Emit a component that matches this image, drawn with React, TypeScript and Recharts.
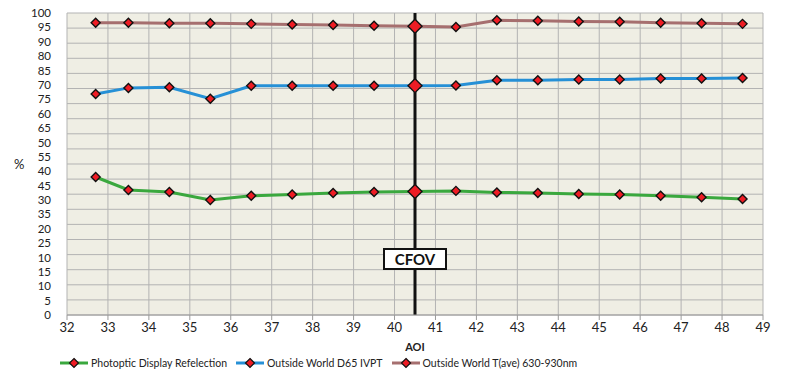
import React from 'react';
import { LineChart, Line, XAxis, YAxis, CartesianGrid, ReferenceLine } from 'recharts';

const aoi = [32.7, 33.5, 34.5, 35.5, 36.5, 37.5, 38.5, 39.5, 40.5, 41.5, 42.5, 43.5, 44.5, 45.5, 46.5, 47.5, 48.5];
const photopic = [45.7, 41.4, 40.7, 38.1, 39.5, 39.9, 40.4, 40.7, 40.9, 41.1, 40.6, 40.4, 40.1, 39.9, 39.5, 39.0, 38.4];
const d65 = [73.2, 75.2, 75.4, 71.6, 75.9, 75.9, 75.9, 75.9, 75.95, 76.0, 77.7, 77.7, 78.0, 78.0, 78.3, 78.3, 78.5];
const tAve = [96.8, 96.8, 96.6, 96.6, 96.4, 96.2, 96.0, 95.8, 95.6, 95.4, 97.6, 97.4, 97.2, 97.1, 96.8, 96.6, 96.4];

const xTicks = [32, 33, 34, 35, 36, 37, 38, 39, 40, 41, 42, 43, 44, 45, 46, 47, 48, 49];
const gridTicks = [0, 5, 10, 15, 20, 25, 30, 35, 40, 45, 50, 55, 60, 65, 70, 75, 80, 85, 90, 95, 100];
// labels as printed on the original, top to bottom
const yLabels = ['100', '95', '90', '80', '85', '70', '75', '60', '65', '50', '55', '40', '45', '30', '35', '20', '25', '10', '15', '10', '5', '0'];
const labelTicks = yLabels.map((_, i) => i);

const cfov = 40.5;

const series = [
  { key: 'photopic', name: 'Photoptic Display Refelection', color: '#3aa83e' },
  { key: 'd65', name: 'Outside World D65 IVPT', color: '#2690d6' },
  { key: 'tAve', name: 'Outside World T(ave) 630-930nm', color: '#a66f6f' },
];

const data = aoi.map((x, i) => ({ aoi: x, photopic: photopic[i], d65: d65[i], tAve: tAve[i] }));

const FONT = 'Lato, "Open Sans", sans-serif';

const Diamond = (props: any) => {
  const { cx, cy, payload } = props;
  if (cx == null || cy == null) return null;
  const r = payload && payload.aoi === cfov ? 7 : 4.5;
  return (
    <polygon
      points={`${cx},${cy - r} ${cx + r},${cy} ${cx},${cy + r} ${cx - r},${cy}`}
      fill="#ee1c24"
      stroke="#111"
      strokeWidth={1.4}
    />
  );
};

const CfovLabel = (props: any) => {
  const { viewBox } = props;
  const x = viewBox.x;
  const y = viewBox.y + 236;
  return (
    <g>
      <rect x={x - 31} y={y} width={62} height={20} fill="#fff" stroke="#111" strokeWidth={2} />
      <text x={x} y={y + 15.5} textAnchor="middle" fontFamily={FONT} fontWeight={700} fontSize={15} fill="#111">
        CFOV
      </text>
    </g>
  );
};

const LegendRow = () => (
  <div style={{ position: 'absolute', top: 357, left: 60, display: 'flex', fontFamily: FONT, fontSize: 10.5, color: '#222' }}>
    {series.map((s) => (
      <div key={s.key} style={{ display: 'flex', alignItems: 'center', marginRight: 9 }}>
        <svg width={28} height={12}>
          <line x1={0} y1={6} x2={28} y2={6} stroke={s.color} strokeWidth={3} />
          <polygon points="14,1.5 18.5,6 14,10.5 9.5,6" fill="#ee1c24" stroke="#111" strokeWidth={1.2} />
        </svg>
        <span style={{ marginLeft: 3 }}>{s.name}</span>
      </div>
    ))}
  </div>
);

export default function App() {
  return (
    <div style={{ position: 'absolute', left: 0, top: 0, width: 792, height: 390, background: '#fff' }}>
      <LineChart width={792} height={390} data={data} margin={{ top: 13, right: 29, left: 0, bottom: 40 }}>
        <CartesianGrid yAxisId="v" stroke="#b3b3b3" strokeWidth={1} fill="#efeee4" />
        <XAxis
          dataKey="aoi"
          type="number"
          domain={[32, 49]}
          ticks={xTicks}
          interval={0}
          height={35}
          axisLine={{ stroke: '#9a9a9a' }}
          tickLine={{ stroke: '#9a9a9a' }}
          tickSize={5}
          tickMargin={3}
          tick={{ fill: '#222', fontSize: 13, fontFamily: FONT }}
          label={{ value: 'AOI', position: 'insideBottom', offset: -1, fill: '#222', fontSize: 11, fontWeight: 700, fontFamily: FONT }}
        />
        <YAxis yAxisId="v" type="number" domain={[0, 100]} ticks={gridTicks} interval={0} hide />
        <YAxis
          yAxisId="lab"
          type="number"
          domain={[0, yLabels.length - 1]}
          allowDataOverflow
          ticks={labelTicks}
          interval={0}
          width={67}
          axisLine={false}
          tickLine={false}
          tickMargin={10}
          tick={{ fill: '#222', fontSize: 11.5, fontFamily: FONT }}
          tickFormatter={(v: number) => yLabels[yLabels.length - 1 - v]}
          label={{ value: '%', position: 'insideLeft', offset: 14, fill: '#222', fontSize: 13, fontFamily: FONT }}
        />
        <ReferenceLine yAxisId="v" x={cfov} stroke="#111" strokeWidth={3} label={<CfovLabel />} />
        {/* invisible series so the label axis is active */}
        <Line yAxisId="lab" dataKey="none" stroke="none" dot={false} activeDot={false} legendType="none" isAnimationActive={false} />
        {series.map((s) => (
          <Line
            key={s.key}
            yAxisId="v"
            type="linear"
            dataKey={s.key}
            name={s.name}
            stroke={s.color}
            strokeWidth={3}
            dot={<Diamond />}
            activeDot={false}
            isAnimationActive={false}
          />
        ))}
      </LineChart>
      <LegendRow />
    </div>
  );
}
